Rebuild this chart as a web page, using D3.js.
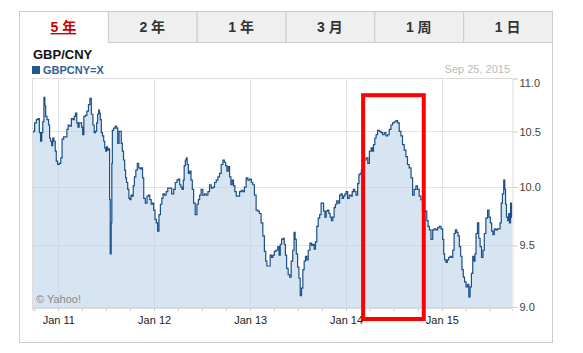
<!DOCTYPE html>
<html>
<head>
<meta charset="utf-8">
<script src="https://cdn.jsdelivr.net/npm/d3@7"></script>
<style>
  body { margin: 0; background: #fff; }
  text { font-family: Arial, "Liberation Sans", "Noto Sans CJK SC", sans-serif; }
</style>
</head>
<body>
<div id="chart"></div>
<script>
// tabs and labels
const tabs = ["5 年", "2 年", "1 年", "3 月", "1 周", "1 日"];
const title = "GBP/CNY";
const symbol = "GBPCNY=X";
const asOf = "Sep 25, 2015";
const yTicks = [9.0, 9.5, 10.0, 10.5, 11.0];
const xTicks = ["2011-01-01", "2012-01-01", "2013-01-01", "2014-01-01", "2015-01-01"];
const xLabels = ["Jan 11", "Jan 12", "Jan 13", "Jan 14", "Jan 15"];
const highlight = ["2014-03-07", "2014-10-24"];

// GBP/CNY close
const dates = [
  "2010-09-23","2010-09-30","2010-10-06","2010-10-13","2010-10-19","2010-10-23","2010-10-28","2010-11-01","2010-11-05","2010-11-10",
  "2010-11-12","2010-11-16","2010-11-22","2010-11-28","2010-11-30","2010-12-05","2010-12-09","2010-12-13","2010-12-18","2010-12-23",
  "2010-12-26","2011-01-02","2011-01-08","2011-01-13","2011-01-18","2011-01-25","2011-02-01","2011-02-05","2011-02-10","2011-02-17",
  "2011-02-23","2011-03-01","2011-03-05","2011-03-10","2011-03-15","2011-03-19","2011-03-24","2011-03-29","2011-04-02","2011-04-06",
  "2011-04-11","2011-04-17","2011-04-23","2011-04-29","2011-05-04","2011-05-10","2011-05-16","2011-05-20","2011-05-25","2011-05-29",
  "2011-06-02","2011-06-06","2011-06-08","2011-06-12","2011-06-16","2011-06-21","2011-06-25","2011-06-29","2011-07-02","2011-07-06",
  "2011-07-10","2011-07-15","2011-07-16","2011-07-20","2011-07-23","2011-07-25","2011-07-27","2011-08-03","2011-08-09","2011-08-13",
  "2011-08-18","2011-08-23","2011-08-27","2011-08-31","2011-09-04","2011-09-09","2011-09-13","2011-09-16","2011-09-20","2011-09-25",
  "2011-09-29","2011-10-03","2011-10-07","2011-10-12","2011-10-15","2011-10-21","2011-10-26","2011-11-01","2011-11-06","2011-11-12",
  "2011-11-16","2011-11-20","2011-11-25","2011-12-02","2011-12-08","2011-12-13","2011-12-18","2011-12-24","2011-12-28",
  "2012-01-02","2012-01-07","2012-01-12","2012-01-17","2012-01-22","2012-01-28","2012-02-02","2012-02-06","2012-02-13","2012-02-19",
  "2012-02-25","2012-03-03","2012-03-13","2012-03-18","2012-03-25","2012-03-31","2012-04-05","2012-04-10","2012-04-14","2012-04-19",
  "2012-04-23","2012-04-26","2012-05-02","2012-05-04","2012-05-08","2012-05-13","2012-05-18","2012-05-23","2012-05-28","2012-06-02",
  "2012-06-09","2012-06-15","2012-06-20","2012-06-25","2012-07-01","2012-07-08","2012-07-14","2012-07-21","2012-07-27","2012-08-02",
  "2012-08-09","2012-08-15","2012-08-21","2012-08-28","2012-09-03","2012-09-09","2012-09-16","2012-09-22","2012-09-27","2012-10-02",
  "2012-10-07","2012-10-12","2012-10-17","2012-10-22","2012-10-27","2012-11-01","2012-11-06","2012-11-12","2012-11-18","2012-11-25",
  "2012-12-01","2012-12-07","2012-12-13","2012-12-20","2012-12-26",
  "2013-01-02","2013-01-08","2013-01-14","2013-01-20","2013-01-27","2013-02-02","2013-02-08","2013-02-15","2013-02-21","2013-02-27",
  "2013-03-03","2013-03-08","2013-03-15","2013-03-21","2013-03-26","2013-03-31","2013-04-06","2013-04-13","2013-04-19","2013-04-23",
  "2013-04-28","2013-05-03","2013-05-08","2013-05-13","2013-05-17","2013-05-22","2013-05-29","2013-06-03","2013-06-09","2013-06-15",
  "2013-06-19","2013-06-23","2013-06-28","2013-07-03","2013-07-08","2013-07-13","2013-07-18","2013-07-23","2013-07-28","2013-08-02",
  "2013-08-07","2013-08-13","2013-08-20","2013-08-25","2013-08-30","2013-09-04","2013-09-09","2013-09-14","2013-09-20","2013-09-25",
  "2013-10-01","2013-10-05","2013-10-10","2013-10-15","2013-10-20","2013-10-25","2013-10-30","2013-11-04","2013-11-09","2013-11-14",
  "2013-11-19","2013-11-24","2013-11-29","2013-12-05","2013-12-10","2013-12-15","2013-12-20","2013-12-25","2013-12-30",
  "2014-01-04","2014-01-10","2014-01-16","2014-01-23","2014-01-26","2014-02-01","2014-02-05","2014-02-11","2014-02-17","2014-02-21",
  "2014-02-26","2014-03-03","2014-03-08","2014-03-15","2014-03-22","2014-03-28","2014-04-03","2014-04-10","2014-04-13","2014-04-18",
  "2014-04-23","2014-04-28","2014-05-04","2014-05-11","2014-05-17","2014-05-23","2014-05-30","2014-06-05","2014-06-11","2014-06-18",
  "2014-06-24","2014-06-30","2014-07-07","2014-07-13","2014-07-19","2014-07-26","2014-08-01","2014-08-07","2014-08-14","2014-08-20",
  "2014-08-26","2014-09-02","2014-09-09","2014-09-14","2014-09-21","2014-09-27","2014-10-03","2014-10-10","2014-10-16","2014-10-22",
  "2014-11-02","2014-11-07","2014-11-12","2014-11-17","2014-11-24","2014-11-30","2014-12-06","2014-12-13","2014-12-19","2014-12-25",
  "2015-01-01","2015-01-07","2015-01-09","2015-01-14","2015-01-19","2015-01-24","2015-01-29","2015-02-03","2015-02-09","2015-02-14",
  "2015-02-19","2015-02-24","2015-03-01","2015-03-06","2015-03-11","2015-03-16","2015-03-21","2015-03-26","2015-03-31","2015-04-06",
  "2015-04-11","2015-04-16","2015-04-21","2015-04-26","2015-05-01","2015-05-06","2015-05-08","2015-05-14","2015-05-19","2015-05-24",
  "2015-05-29","2015-06-04","2015-06-09","2015-06-14","2015-06-21","2015-06-27","2015-07-02","2015-07-07","2015-07-12","2015-07-17",
  "2015-07-22","2015-07-29","2015-08-03","2015-08-08","2015-08-13","2015-08-17","2015-08-22","2015-08-27","2015-08-30","2015-09-02",
  "2015-09-06","2015-09-11","2015-09-14","2015-09-17","2015-09-22","2015-09-25"
];
const rates = [
  10.49,10.50,10.58,10.61,10.62,10.49,10.41,10.49,10.59,10.82,
  10.74,10.64,10.61,10.56,10.44,10.41,10.37,10.44,10.41,10.32,
  10.23,10.20,10.21,10.26,10.43,10.45,10.45,10.52,10.56,10.55,
  10.62,10.61,10.64,10.67,10.58,10.54,10.58,10.58,10.54,10.47,
  10.64,10.65,10.69,10.75,10.81,10.66,10.56,10.49,10.50,10.58,
  10.66,10.70,10.67,10.61,10.49,10.46,10.41,10.35,10.32,10.36,
  10.33,10.34,9.89,9.43,9.69,10.21,10.51,10.53,10.55,10.53,
  10.39,10.50,10.50,10.39,10.32,10.24,10.15,10.08,10.04,9.98,
  9.90,9.89,9.93,9.92,10.01,10.09,10.15,10.21,10.17,10.16,
  10.17,10.08,9.90,9.86,9.92,9.93,9.89,9.85,9.86,
  9.80,9.72,9.69,9.62,9.76,9.85,9.90,9.94,9.93,9.96,
  9.99,9.99,9.94,9.98,10.04,10.06,10.07,10.02,10.00,9.98,
  10.06,10.19,10.24,10.26,10.20,10.12,10.14,10.06,9.98,9.86,
  9.76,9.85,9.89,9.93,9.98,9.93,9.94,9.93,9.96,10.02,
  9.99,10.00,10.04,10.06,10.09,10.12,10.20,10.24,10.22,10.19,
  10.14,10.18,10.09,10.02,10.06,10.01,9.96,9.92,9.92,9.96,
  9.97,9.96,10.00,10.08,10.06,
  10.07,10.04,10.02,9.93,9.80,9.79,9.77,9.69,9.58,9.45,
  9.37,9.33,9.33,9.42,9.40,9.42,9.45,9.46,9.49,9.42,
  9.51,9.55,9.56,9.51,9.42,9.31,9.26,9.24,9.37,9.46,
  9.61,9.55,9.43,9.32,9.23,9.09,9.15,9.30,9.37,9.41,
  9.38,9.46,9.52,9.50,9.51,9.47,9.53,9.66,9.73,9.76,
  9.86,9.86,9.79,9.74,9.79,9.80,9.77,9.74,9.71,9.74,
  9.82,9.85,9.88,9.86,9.93,9.94,9.90,9.92,9.94,
  9.96,9.90,9.93,9.92,9.96,9.98,9.96,9.93,10.03,10.11,
  10.12,10.15,10.23,10.24,10.26,10.21,10.32,10.35,10.32,10.38,
  10.44,10.47,10.51,10.50,10.49,10.47,10.49,10.46,10.47,10.52,
  10.56,10.58,10.59,10.60,10.58,10.50,10.46,10.38,10.33,10.27,
  10.20,10.17,10.08,9.93,9.98,10.01,9.98,9.92,9.89,9.80,
  9.79,9.71,9.66,9.63,9.55,9.63,9.64,9.63,9.65,9.66,
  9.64,9.55,9.43,9.38,9.36,9.38,9.40,9.41,9.40,9.46,
  9.60,9.63,9.61,9.58,9.49,9.41,9.30,9.24,9.20,9.16,
  9.18,9.08,9.16,9.27,9.41,9.37,9.43,9.60,9.69,9.56,
  9.49,9.40,9.46,9.60,9.73,9.80,9.74,9.69,9.62,9.59,
  9.64,9.63,9.64,9.64,9.69,9.86,9.94,10.06,9.98,9.85,
  9.74,9.71,9.77,9.69,9.86,9.74
];

const W = 583, H = 353;
const frame = { left: 19, top: 11, right: 552, bottom: 342, tabH: 31 };
const plot = { left: 32, right: 512, top: 78.5, bottom: 308 };

const parse = d3.timeParse("%Y-%m-%d");
const data = dates.map((d, i) => ({ date: parse(d), value: rates[i] }));

const svg = d3.select("#chart").append("svg")
  .attr("width", W)
  .attr("height", H);

// outer box + tabs
svg.append("rect")
  .attr("x", frame.left + 0.5).attr("y", frame.top + 0.5)
  .attr("width", frame.right - frame.left).attr("height", frame.bottom - frame.top)
  .attr("fill", "#fff").attr("stroke", "#ccc");

const tabW = (frame.right - frame.left) / tabs.length;
const tab = svg.selectAll("g.tab")
  .data(tabs)
  .enter().append("g")
    .attr("class", "tab")
    .attr("transform", (d, i) => `translate(${frame.left + i * tabW},${frame.top})`);

tab.filter((d, i) => i > 0).append("rect")
  .attr("x", 0.5).attr("y", 0.5)
  .attr("width", tabW).attr("height", frame.tabH)
  .attr("fill", "#efefef").attr("stroke", "#ccc");

tab.append("text")
  .attr("x", tabW / 2).attr("y", 21)
  .attr("text-anchor", "middle")
  .style("font-size", "14px")
  .style("font-weight", "bold")
  .style("fill", (d, i) => i === 0 ? "#cc0000" : "#333")
  .style("text-decoration", (d, i) => i === 0 ? "underline" : "none")
  .text(d => d);

// heading
svg.append("text")
  .attr("x", 33).attr("y", 59)
  .style("font-size", "13px").style("font-weight", "bold").style("fill", "#111")
  .text(title);

svg.append("rect")
  .attr("x", 32).attr("y", 66).attr("width", 8).attr("height", 8)
  .attr("fill", "#1f5a8f");
svg.append("text")
  .attr("x", 43).attr("y", 74)
  .style("font-size", "11px").style("font-weight", "bold").style("fill", "#2e6097")
  .text(symbol);

svg.append("text")
  .attr("x", 510).attr("y", 73)
  .attr("text-anchor", "end")
  .style("font-size", "11px").style("fill", "#bbb")
  .text(asOf);

// scales
const x = d3.scaleTime()
  .domain([parse("2010-09-23"), parse("2015-09-25")])
  .range([plot.left, plot.right]);

const y = d3.scaleLog()
  .domain([9, 11])
  .range([307, plot.top]);

// area + line
const area = d3.area()
  .curve(d3.curveStep)
  .x(d => x(d.date))
  .y0(plot.bottom)
  .y1(d => y(d.value));

const line = d3.line()
  .curve(d3.curveStep)
  .x(d => x(d.date))
  .y(d => y(d.value));

svg.append("path")
  .datum(data)
  .attr("d", area)
  .attr("fill", "#d6e5f1");

// grid
const grid = svg.append("g").attr("stroke", "#bdd0e4").attr("stroke-opacity", 0.5);
grid.selectAll("line.h")
  .data(yTicks.slice(0, -1))
  .enter().append("line")
    .attr("x1", plot.left).attr("x2", plot.right)
    .attr("y1", d => Math.round(y(d)) + 0.5).attr("y2", d => Math.round(y(d)) + 0.5);
grid.selectAll("line.v")
  .data(xTicks)
  .enter().append("line")
    .attr("x1", d => Math.round(x(parse(d))) + 0.5).attr("x2", d => Math.round(x(parse(d))) + 0.5)
    .attr("y1", plot.top).attr("y2", plot.bottom);

svg.append("path")
  .datum(data)
  .attr("d", line)
  .attr("fill", "none")
  .attr("stroke", "#1b4f87")
  .attr("stroke-width", 1.2);

// frame of the plot
svg.append("line")
  .attr("x1", plot.left + 0.5).attr("x2", plot.left + 0.5)
  .attr("y1", plot.top).attr("y2", plot.bottom)
  .attr("stroke", "#ddd");
svg.append("line")
  .attr("x1", plot.left).attr("x2", plot.right)
  .attr("y1", Math.round(plot.top) - 0.5).attr("y2", Math.round(plot.top) - 0.5)
  .attr("stroke", "#ddd");

svg.append("text")
  .attr("x", 36).attr("y", 303)
  .style("font-size", "11px").style("fill", "#888")
  .text("© Yahoo!");

// y axis on the right
const yAxis = svg.append("g")
  .attr("transform", `translate(${plot.right + 0.5},0)`)
  .call(d3.axisRight(y).tickValues(yTicks).tickFormat(d3.format(".1f")).tickSize(5).tickPadding(2));
yAxis.select(".domain").attr("stroke", "#ddd");
yAxis.selectAll(".tick line").attr("stroke", "#ccc");
yAxis.selectAll(".tick text")
  .style("font-size", "11px").style("fill", "#444")
  .attr("dy", d => d === 11 ? "0.7em" : "0.32em");

// x axis: quarter ticks, labels on January
const xAxis = svg.append("g")
  .attr("transform", `translate(0,${plot.bottom})`)
  .call(d3.axisBottom(x)
    .tickValues(d3.timeMonth.every(3).range(x.domain()[0], x.domain()[1]))
    .tickFormat(d => {
      const k = xTicks.indexOf(d3.timeFormat("%Y-%m-%d")(d));
      return k < 0 ? "" : xLabels[k];
    })
    .tickSize(3).tickPadding(5));
xAxis.select(".domain").attr("stroke", "#ddd");
xAxis.selectAll(".tick line").attr("stroke", "#ccc");
xAxis.selectAll(".tick text").style("font-size", "11px").style("fill", "#222");

// red highlight box
svg.append("rect")
  .attr("x", x(parse(highlight[0])))
  .attr("y", y(10.84))
  .attr("width", x(parse(highlight[1])) - x(parse(highlight[0])))
  .attr("height", plot.bottom + 11 - y(10.84))
  .attr("fill", "none")
  .attr("stroke", "#ff0000")
  .attr("stroke-width", 4);
</script>
</body>
</html>
